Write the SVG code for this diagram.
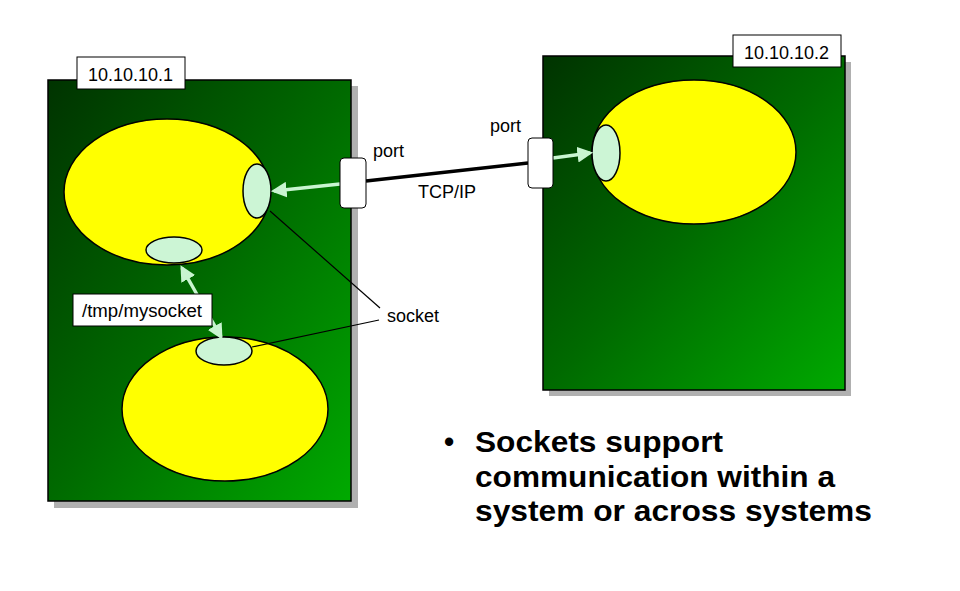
<svg xmlns="http://www.w3.org/2000/svg" width="960" height="591" viewBox="0 0 960 591">
<defs>
<linearGradient id="g" x1="0" y1="0" x2="1" y2="1">
<stop offset="0" stop-color="#003300"/>
<stop offset="0.5" stop-color="#006a00"/>
<stop offset="1" stop-color="#00aa00"/>
</linearGradient>
<marker id="ah" viewBox="0 0 10 10" refX="8" refY="5" markerWidth="4.5" markerHeight="4.5" orient="auto-start-reverse">
<path d="M0,0 L10,5 L0,10 z" fill="#c8f5d0"/>
</marker>
<style>
.shadow{fill:#b0b0b0}
.sys{fill:url(#g);stroke:#000;stroke-width:1.5}
.proc{fill:#ffff00;stroke:#000;stroke-width:1.5}
.sock{fill:#ccf5d5;stroke:#000;stroke-width:1.5}
.lbl{fill:#fff;stroke:#000;stroke-width:1}
.port{fill:#fff;stroke:#000;stroke-width:1;}
.t{font-family:"Liberation Sans",Arial,sans-serif;font-size:18px;fill:#000}
.arr{stroke:#c8f5d0;stroke-width:3.5;fill:none;marker-end:url(#ah)}
.lead{stroke:#000;stroke-width:1.2;fill:none}
.big{font-family:"Liberation Sans",Arial,sans-serif;font-size:29px;font-weight:bold;fill:#000}
</style>
</defs>
<rect width="960" height="591" fill="#fff"/>
<g id="system1">
<rect class="shadow" x="54" y="86" width="304" height="422"/>
<rect class="sys" x="48" y="80" width="303" height="421"/>
<rect class="lbl" x="77" y="57" width="108" height="32"/>
<text class="t" x="88" y="81" textLength="85" lengthAdjust="spacingAndGlyphs">10.10.10.1</text>
</g>
<g id="system2">
<rect class="shadow" x="549" y="62" width="302" height="334"/>
<rect class="sys" x="543" y="56" width="302" height="334"/>
<rect class="lbl" x="733" y="35" width="108" height="32"/>
<text class="t" x="744" y="59" textLength="85" lengthAdjust="spacingAndGlyphs">10.10.10.2</text>
</g>
<g id="process1">
<ellipse class="proc" cx="167" cy="192" rx="103" ry="73"/>
</g>
<g id="process2">
<ellipse class="proc" cx="225" cy="409" rx="103" ry="72"/>
</g>
<g id="process3">
<ellipse class="proc" cx="694" cy="152" rx="102" ry="72"/>
</g>
<g id="socket1"><ellipse class="sock" cx="257" cy="191" rx="14" ry="27"/></g>
<g id="socket2"><ellipse class="sock" cx="174" cy="250" rx="28" ry="13"/></g>
<g id="socket3"><ellipse class="sock" cx="224" cy="351" rx="28" ry="14"/></g>
<g id="socket4"><ellipse class="sock" cx="606" cy="153" rx="14" ry="28"/></g>
<g id="connectors">
<line x1="366" y1="181" x2="528" y2="163" stroke="#000" stroke-width="3.5"/>
<line class="arr" x1="340" y1="184" x2="274" y2="191"/>
<line class="arr" x1="553" y1="158" x2="590" y2="153"/>
<line class="arr" x1="182" y1="268" x2="221" y2="337" style="marker-start:url(#ah)"/>
<line class="lead" x1="270" y1="211" x2="380" y2="308"/>
<line class="lead" x1="252" y1="347" x2="379" y2="320"/>
</g>
<g id="port1">
<rect class="port" x="340" y="158" width="26" height="50" rx="4"/>
<text class="t" x="373" y="157">port</text>
</g>
<g id="port2">
<rect class="port" x="528" y="138" width="25" height="50" rx="4"/>
<text class="t" x="490" y="132">port</text>
</g>
<g id="tcpip"><text class="t" x="418" y="198">TCP/IP</text></g>
<g id="path-label">
<rect class="lbl" x="73" y="294" width="139" height="32"/>
<text class="t" x="82" y="317" textLength="120" lengthAdjust="spacingAndGlyphs">/tmp/mysocket</text>
</g>
<g id="socket-label"><text class="t" x="387" y="322">socket</text></g>
<g id="bullet">
<text class="big" x="444" y="452">•</text>
<text class="big" x="475" y="452" textLength="248" lengthAdjust="spacingAndGlyphs">Sockets support</text>
<text class="big" x="475" y="487" textLength="360" lengthAdjust="spacingAndGlyphs">communication within a</text>
<text class="big" x="475" y="521" textLength="397" lengthAdjust="spacingAndGlyphs">system or across systems</text>
</g>
</svg>
